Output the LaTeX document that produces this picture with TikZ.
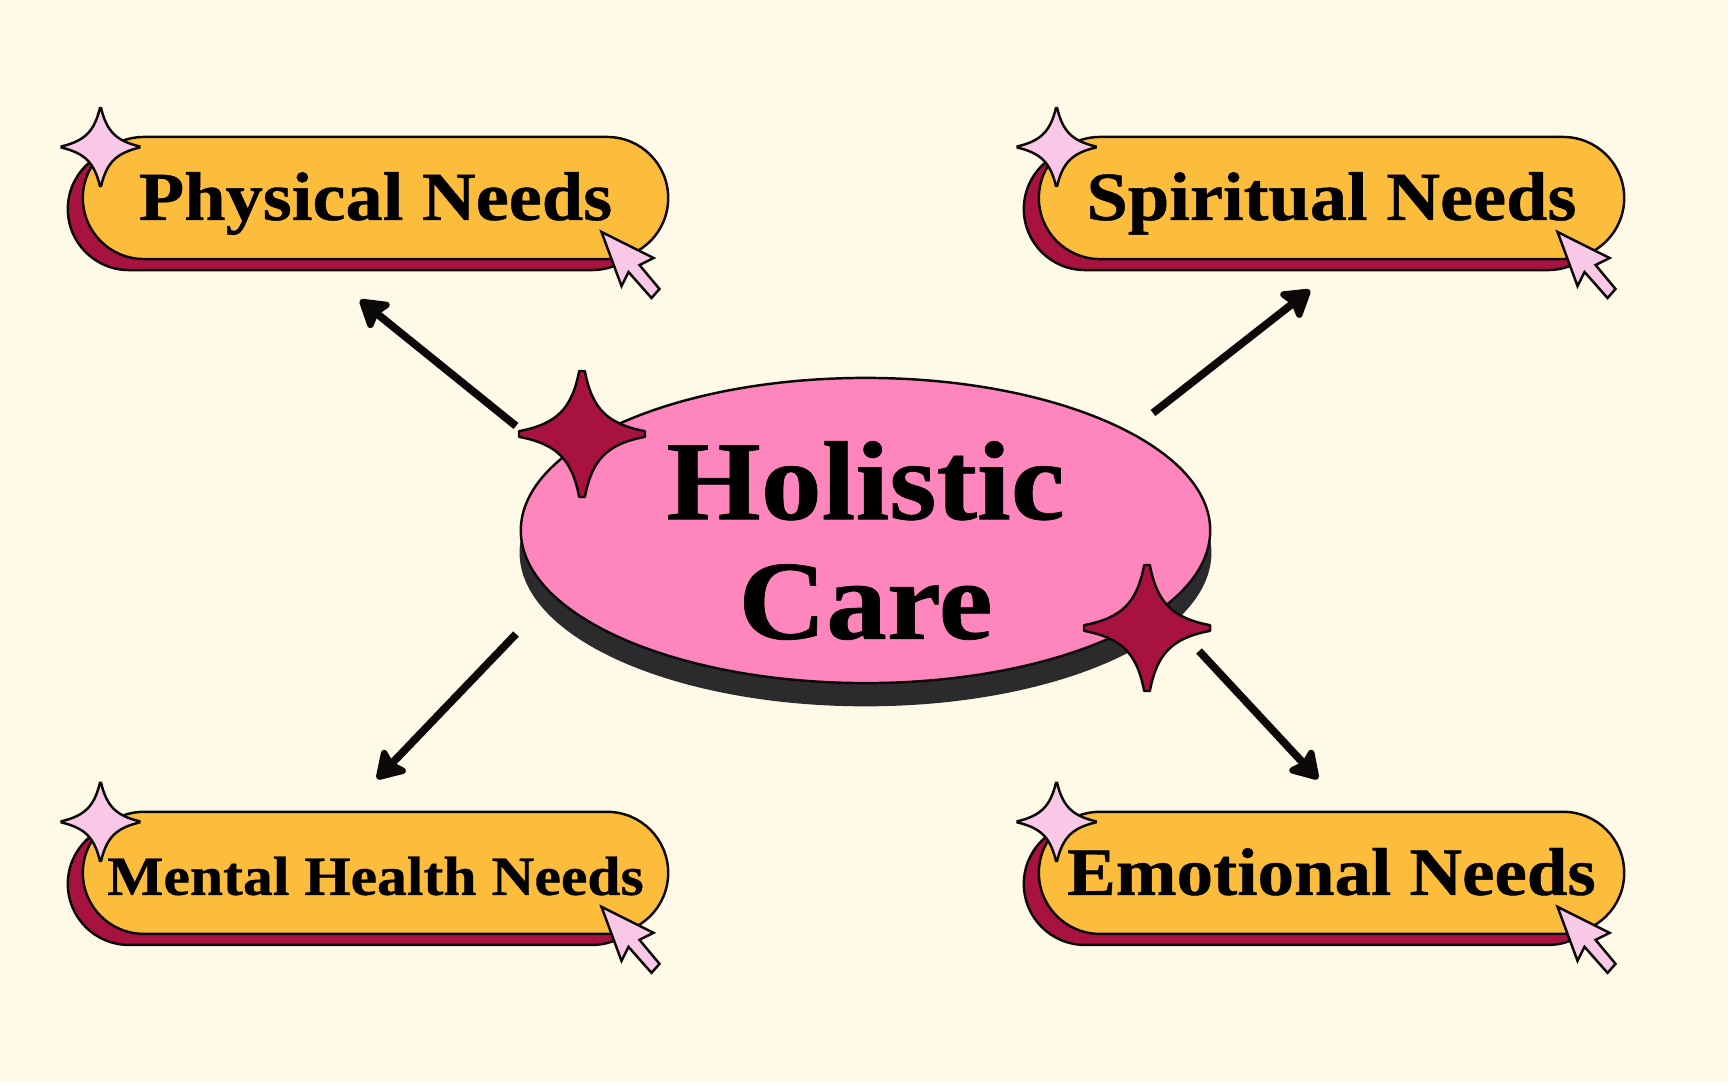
\documentclass[tikz,border=0pt]{standalone}
\usepackage{fontspec}
\setmainfont[BoldFeatures={FakeBold=0.6,FakeStretch=1.08}]{Liberation Serif}
\usepackage{xcolor}
\usepackage{tikz}
\usetikzlibrary{shapes.geometric,shapes.misc,shadows,arrows.meta,positioning,calc}
\definecolor{cream}{HTML}{FFF9E8}
\definecolor{hubpink}{HTML}{FF85BD}
\definecolor{pillgold}{HTML}{FDBD3C}
\definecolor{berry}{HTML}{A8123F}
\definecolor{palepink}{HTML}{F8C8E6}
\definecolor{ink}{HTML}{0C0A09}
\definecolor{slab}{HTML}{2B2B2D}
\newcommand{\sparklepath}[1]{(-#1,-1) -- (#1,-1) .. controls (.16,-.4) and (.4,-.16) .. (1,-#1) -- (1,#1) .. controls (.4,.16) and (.16,.4) .. (#1,1) -- (-#1,1) .. controls (-.16,.4) and (-.4,.16) .. (-1,#1) -- (-1,-#1) .. controls (-.4,-.16) and (-.16,-.4) .. (-#1,-1) -- cycle}
\tikzset{
  arr/.style={-{Stealth[length=9pt,width=11pt,inset=1.5pt,round]},line width=2.2pt,ink},
  pillbox/.style={rounded rectangle,minimum width=5.85cm,minimum height=1.22cm,inner sep=0pt,
    draw=ink,line width=0.7pt,fill=pillgold,text=black,font=\fontsize{19.6}{22}\selectfont\bfseries,
    text height=12.5pt,text depth=0pt,
    general shadow={fill=berry,draw=ink,line width=0.7pt,shadow xshift=-0.15cm,shadow yshift=-0.11cm}},
  hubbox/.style={ellipse,minimum width=6.89cm,minimum height=3.05cm,inner sep=0pt,
    draw=ink,line width=0.7pt,fill=hubpink,
    general shadow={fill=slab,draw=slab,shadow yshift=-0.22cm}},
  hubtext/.style={align=center,inner sep=0pt,text=black,font=\fontsize{32}{34}\selectfont\bfseries},
  pinkstar/.pic={\draw[fill=palepink,draw=ink,line width=0.7pt,line join=miter,scale=39] \sparklepath{.015};},
  redstar/.pic={\draw[fill=berry,draw=ink,line width=0.7pt,line join=round,scale=63] \sparklepath{.045};},
  cursor/.pic={\draw[fill=palepink,draw=ink,line width=0.7pt,line join=miter]
    (0,0) -- (52,26) -- (38,33) -- (58,57) -- (50,66) -- (27,40) -- (20,54) -- cycle;},
}
\begin{document}
\begin{tikzpicture}[x=0.01cm,y=-0.01cm]

\fill[cream] (0,0) rectangle (1728,1082);
\useasboundingbox (0,0) rectangle (1728,1082);

\node[pillbox] (phys) at (375.5,198) {Physical Needs};
\node[pillbox,right=3.68cm of phys] (spirit) {Spiritual Needs};
\node[pillbox,below=5.50cm of phys,font=\fontsize{15.7}{22}\selectfont\bfseries] (mental) {Mental Health Needs};
\node[pillbox,right=3.68cm of mental,font=\fontsize{19.2}{22}\selectfont\bfseries] (emo) {Emotional Needs};
\node[hubbox] (hub) at (865.5,530.5) {};
\node[hubtext] (hublabel) at ($(hub)+(0,10)$) {Holistic\\Care};

% free ends of the four arrows
\coordinate (hubnw) at (516,426);
\coordinate (hubne) at (1153,413);
\coordinate (hubsw) at (516,634);
\coordinate (hubse) at (1199,651);
\coordinate (physin) at (360,300);
\coordinate (spiritin) at (1310,290);
\coordinate (mentalin) at (377,779);
\coordinate (emoin) at (1318,779);

\draw[arr] (hubnw) -- (physin);
\draw[arr] (hubne) -- (spiritin);
\draw[arr] (hubsw) -- (mentalin);
\draw[arr] (hubse) -- (emoin);

\pic at (582,434) {redstar};
\pic at (1147,628) {redstar};

\pic at ($(phys)+(-275,-51)$) {pinkstar};
\pic at ($(spirit)+(-275,-51)$) {pinkstar};
\pic at ($(mental)+(-275,-51)$) {pinkstar};
\pic at ($(emo)+(-275,-51)$) {pinkstar};

\pic at ($(phys)+(226,34)$) {cursor};
\pic at ($(spirit)+(226,34)$) {cursor};
\pic at ($(mental)+(226,34)$) {cursor};
\pic at ($(emo)+(226,34)$) {cursor};
\end{tikzpicture}
\end{document}
